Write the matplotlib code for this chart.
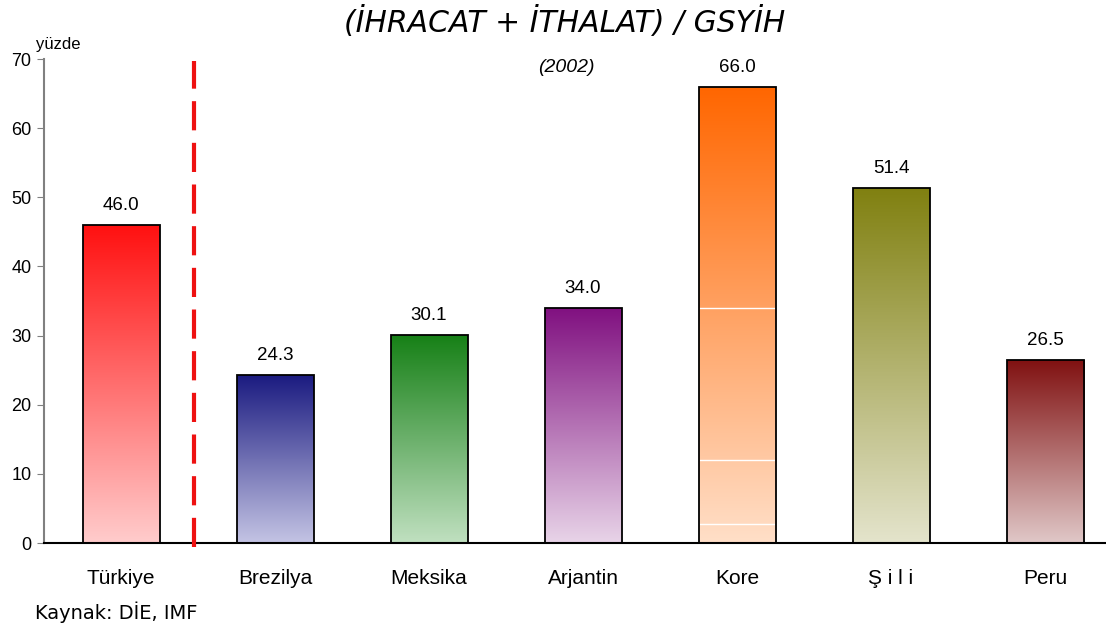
import numpy as np
import matplotlib
matplotlib.use('Agg')
import matplotlib.pyplot as plt
from matplotlib.colors import LinearSegmentedColormap
from matplotlib.patches import Rectangle

# Veriler
ulkeler = ['Türkiye', 'Brezilya', 'Meksika', 'Arjantin', 'Kore', 'Ş i l i', 'Peru']
oranlar = [46.0, 24.3, 30.1, 34.0, 66.0, 51.4, 26.5]
ust_renkler = ['#FF1010', '#1A1A80', '#168016', '#801080', '#FF6600', '#808010', '#801010']
alt_renkler = ['#FFCCCC', '#C4C4E4', '#C0E0C0', '#E8D4E8', '#FFDFC8', '#E4E4CC', '#E0C8C8']
kore_cizgiler = [34.0, 12.0, 2.7]
y_ticks = [0, 10, 20, 30, 40, 50, 60, 70]

fig = plt.figure(figsize=(11.06, 6.26), dpi=100)
ax = fig.add_axes([44 / 1106, 1 - 543 / 626, 1 - 44 / 1106, (543 - 59) / 626])

genislik = 0.5
x = np.arange(len(ulkeler))
for i, (deger, ust, alt) in enumerate(zip(oranlar, ust_renkler, alt_renkler)):
    cmap = LinearSegmentedColormap.from_list('g%d' % i, [alt, ust])
    grad = np.linspace(0, 1, 256).reshape(-1, 1)
    sol = x[i] - genislik / 2
    im = ax.imshow(grad, cmap=cmap, origin='lower', aspect='auto',
                   extent=[sol, sol + genislik, 0, deger], zorder=2)
    kutu = Rectangle((sol, 0), genislik, deger, facecolor='none',
                     edgecolor='black', linewidth=1.3, zorder=3)
    ax.add_patch(kutu)
    im.set_clip_path(kutu)
    ax.text(x[i], deger + 1.6, '%.1f' % deger, ha='center', va='bottom',
            fontsize=13.5, family='Liberation Sans')

# Kore çubuğundaki beyaz çizgiler
k = ulkeler.index('Kore')
for c in kore_cizgiler:
    ax.plot([k - genislik / 2 + 0.01, k + genislik / 2 - 0.01], [c, c],
            color='white', lw=1, zorder=2.5)

# Kesikli kırmızı ayırıcı çizgi
ax.plot([0.474, 0.474], [-0.6, 69.7], color='#EE1111', lw=3,
        dashes=(7, 3), clip_on=False, zorder=4)

ax.set_xlim(-0.5, (1106 - 44) / 154 - 0.5)
ax.set_ylim(0, 70)
ax.set_xticks(x)
ax.set_xticklabels(ulkeler, fontsize=15, family='Liberation Sans')
ax.tick_params(axis='x', length=0, pad=19)
ax.set_yticks(y_ticks)
ax.set_yticklabels([str(t) for t in y_ticks], fontsize=13, family='Liberation Sans')
ax.tick_params(axis='y', length=5, color='#808080', pad=4)

for s in ['top', 'right']:
    ax.spines[s].set_visible(False)
ax.spines['left'].set_color('#808080')
ax.spines['left'].set_linewidth(1.5)
ax.spines['bottom'].set_color('black')
ax.spines['bottom'].set_linewidth(1.5)

fig.text(565 / 1106, 1 - 22 / 626, '(İHRACAT + İTHALAT) / GSYİH', ha='center',
         va='center', fontsize=21.5, style='italic', family='DejaVu Sans')
fig.text(566 / 1106, 1 - 67 / 626, '(2002)', ha='center', va='center',
         fontsize=14, style='italic', family='Liberation Sans')
fig.text(36 / 1106, 1 - 45 / 626, 'yüzde', ha='left', va='center',
         fontsize=12, family='Liberation Sans')
fig.text(35 / 1106, 1 - 612 / 626, 'Kaynak: DİE, IMF', ha='left', va='center',
         fontsize=14, family='DejaVu Sans')

fig.savefig('out.png', dpi=100)
